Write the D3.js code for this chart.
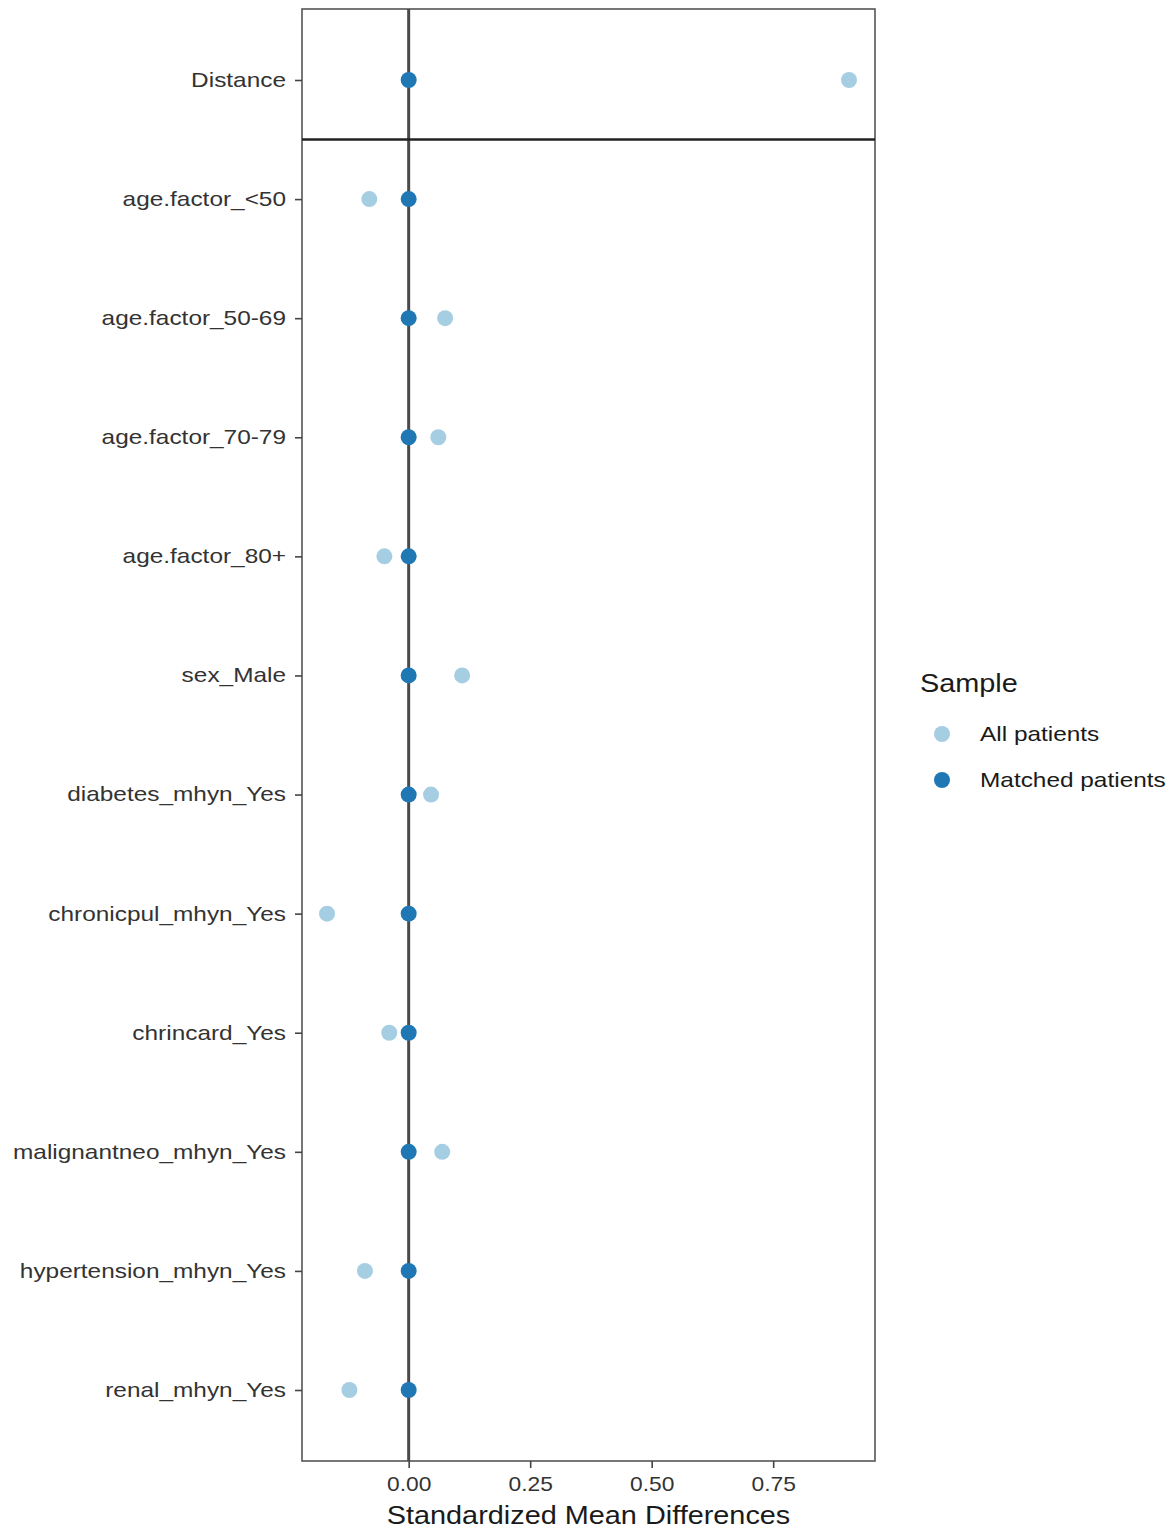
<!DOCTYPE html>
<html>
<head>
<meta charset="utf-8">
<script src="https://cdn.jsdelivr.net/npm/d3@7"></script>
<style>
  html, body { margin: 0; padding: 0; background: #fff; }
  svg { display: block; font-family: "Liberation Sans", Arial, sans-serif; }
</style>
</head>
<body>
<svg id="chart" width="1174" height="1533"></svg>
<script>
// Covariates, top to bottom
const covariates = [
  "Distance", "age.factor_<50", "age.factor_50-69", "age.factor_70-79",
  "age.factor_80+", "sex_Male", "diabetes_mhyn_Yes", "chronicpul_mhyn_Yes",
  "chrincard_Yes", "malignantneo_mhyn_Yes", "hypertension_mhyn_Yes", "renal_mhyn_Yes"
];
// Standardized mean differences before matching
const allPatients = [0.906, -0.081, 0.075, 0.061, -0.050, 0.110, 0.046, -0.168, -0.040, 0.069, -0.090, -0.122];
// Standardized mean differences after matching
const matchedPatients = [0, 0, 0, 0, 0, 0, 0, 0, 0, 0, 0, 0];
const xTicks = [0, 0.25, 0.5, 0.75];
const sampleNames = ["All patients", "Matched patients"];
const sampleColors = ["#a6cee3", "#1f78b4"];

const svg = d3.select("#chart");
const panel = { left: 302, right: 875, top: 9, bottom: 1461 };

// horizontal stretch applied to the lettering
const smallStretch = 1.22;
const largeStretch = 1.11;

const x = d3.scaleLinear().domain([-0.2195, 0.9595]).range([panel.left, panel.right]);
const y = d3.scalePoint().domain(covariates).range([80, 1390]);

const g = svg.append("g");

// panel border
g.append("rect")
  .attr("x", panel.left).attr("y", panel.top)
  .attr("width", panel.right - panel.left).attr("height", panel.bottom - panel.top)
  .attr("fill", "none").attr("stroke", "#555").attr("stroke-width", 1.6);

// zero reference line
g.append("line")
  .attr("x1", x(0)).attr("x2", x(0))
  .attr("y1", panel.top).attr("y2", panel.bottom)
  .attr("stroke", "#4a4a4a").attr("stroke-width", 3);

// separator below Distance
const sepY = (y(covariates[0]) + y(covariates[1])) / 2;
g.append("line")
  .attr("x1", panel.left).attr("x2", panel.right)
  .attr("y1", sepY).attr("y2", sepY)
  .attr("stroke", "#222").attr("stroke-width", 2.4);

// y axis
const yAxis = g.append("g")
  .attr("transform", `translate(${panel.left},0)`)
  .call(d3.axisLeft(y).tickSize(7));
yAxis.select(".domain").remove();
yAxis.selectAll(".tick line").attr("stroke", "#444").attr("stroke-width", 1.6);
yAxis.selectAll(".tick text")
  .attr("x", -16 / smallStretch)
  .attr("transform", `scale(${smallStretch},1)`)
  .attr("fill", "#333").attr("font-size", 20)
  .attr("font-family", "Liberation Sans, Arial, sans-serif");

// x axis
const xAxis = g.append("g")
  .attr("transform", `translate(0,${panel.bottom})`)
  .call(d3.axisBottom(x).tickValues(xTicks).tickFormat(d3.format(".2f")).tickSize(7).tickPadding(9));
xAxis.select(".domain").remove();
xAxis.selectAll(".tick line").attr("stroke", "#444").attr("stroke-width", 1.6);
xAxis.selectAll(".tick text")
  .attr("transform", "scale(1.14,1)")
  .attr("fill", "#333").attr("font-size", 20)
  .attr("font-family", "Liberation Sans, Arial, sans-serif");

// axis title
svg.append("text")
  .attr("transform", `translate(${(panel.left + panel.right) / 2},1524) scale(${largeStretch},1)`)
  .attr("text-anchor", "middle").attr("font-size", 26).attr("fill", "#1a1a1a")
  .text("Standardized Mean Differences");

// points
const series = [allPatients, matchedPatients];
series.forEach((vals, si) => {
  g.append("g").selectAll("circle")
    .data(vals.map((v, i) => ({ v, c: covariates[i] })))
    .join("circle")
    .attr("cx", d => x(d.v)).attr("cy", d => y(d.c))
    .attr("r", 8).attr("fill", sampleColors[si]);
});

// legend
const lg = svg.append("g");
lg.append("text")
  .attr("transform", `translate(920,692) scale(${largeStretch},1)`)
  .attr("font-size", 26).attr("fill", "#1a1a1a").text("Sample");
sampleNames.forEach((name, i) => {
  const cy = 734 + i * 46;
  lg.append("circle").attr("cx", 942).attr("cy", cy).attr("r", 8).attr("fill", sampleColors[i]);
  lg.append("text")
    .attr("transform", `translate(980,${cy + 7}) scale(${smallStretch},1)`)
    .attr("font-size", 20).attr("fill", "#1a1a1a").text(name);
});
</script>
</body>
</html>
